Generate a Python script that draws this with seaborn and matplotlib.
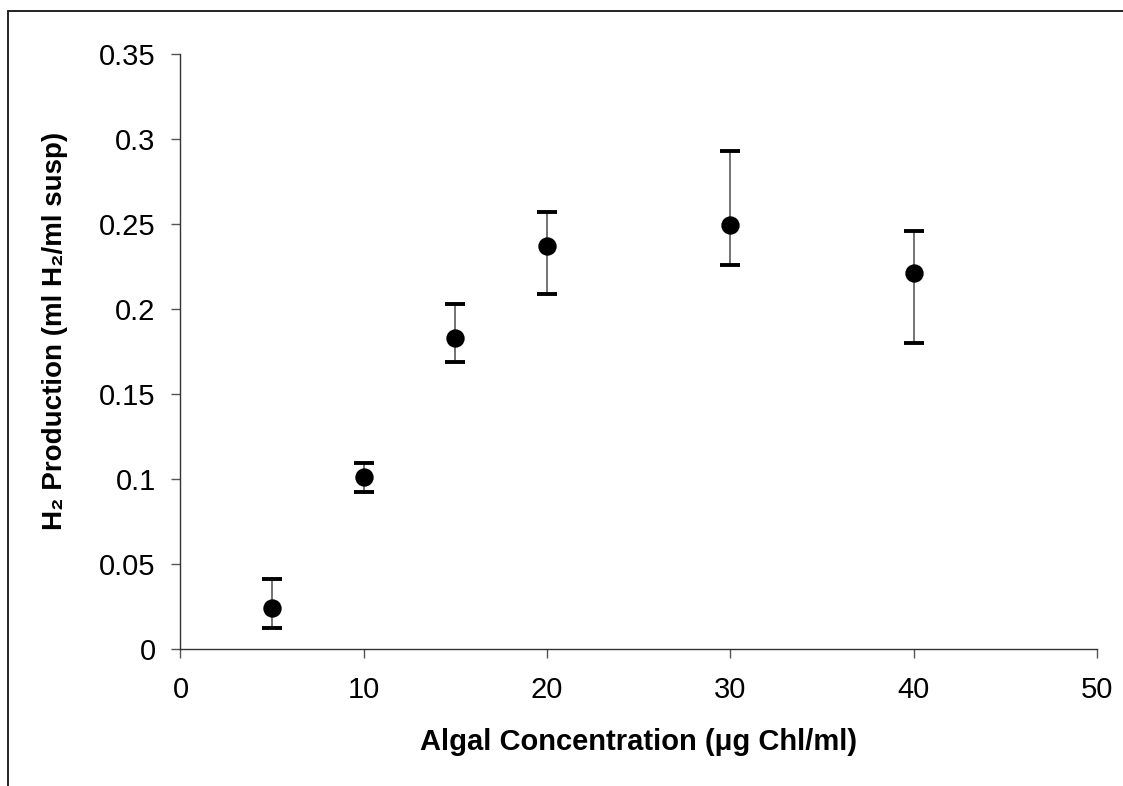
import matplotlib
matplotlib.use("Agg")
import matplotlib.pyplot as plt
from matplotlib.lines import Line2D
import seaborn as sns
import pandas as pd
import numpy as np

# ---- data ----
concentration = [5, 10, 15, 20, 30, 40]                       # µg Chl/ml
h2_mean = [0.024, 0.101, 0.183, 0.237, 0.2495, 0.221]          # ml H2 / ml susp
err_low = [0.012, 0.092, 0.169, 0.209, 0.226, 0.180]           # lower bar end
err_high = [0.041, 0.109, 0.203, 0.257, 0.293, 0.246]          # upper bar end

x_ticks = [0, 10, 20, 30, 40, 50]
y_ticks = [0, 0.05, 0.1, 0.15, 0.2, 0.25, 0.3, 0.35]
y_tick_labels = ["0", "0.05", "0.1", "0.15", "0.2", "0.25", "0.3", "0.35"]

df = pd.DataFrame({"conc": concentration, "h2": h2_mean,
                   "lo": err_low, "hi": err_high})

sns.set_theme(style="white")
plt.rcParams["font.family"] = ["Liberation Sans", "DejaVu Sans"]

fig = plt.figure(figsize=(11.23, 7.86), dpi=100)
ax = fig.add_axes([0.1607, 0.1749, 0.9768 - 0.1607, 0.9309 - 0.1749])

yerr = np.vstack([df["h2"] - df["lo"], df["hi"] - df["h2"]])
eb = ax.errorbar(df["conc"], df["h2"], yerr=yerr, fmt="none",
                 ecolor="#4d4d4d", elinewidth=1.1, capsize=7.4,
                 capthick=2.8, zorder=2)
for cap in eb[1]:
    cap.set_color("black")
    cap.set_markeredgecolor("black")
    cap.set_markerfacecolor("black")

sns.scatterplot(data=df, x="conc", y="h2", ax=ax, s=175, color="black",
                edgecolor="black", linewidth=0, zorder=3, legend=False)

ax.set_xlim(0, 50)
ax.set_ylim(0, 0.35)
ax.set_xticks(x_ticks)
ax.set_xticklabels([str(v) for v in x_ticks])
ax.set_yticks(y_ticks)
ax.set_yticklabels(y_tick_labels)

for s in ["top", "right"]:
    ax.spines[s].set_visible(False)
for s in ["left", "bottom"]:
    ax.spines[s].set_color("#333333")
    ax.spines[s].set_linewidth(1.0)

ax.tick_params(axis="y", direction="out", length=6.8, width=1.0,
               color="#555555", labelsize=21, pad=11, labelcolor="black",
               left=True)
ax.tick_params(axis="x", direction="out", length=6.8, width=1.0,
               color="#555555", labelsize=21, pad=13, labelcolor="black",
               bottom=True)

ax.set_xlabel("Algal Concentration (\u03bcg Chl/ml)", fontsize=21,
              fontweight="bold", color="black")
ax.set_ylabel("H\u2082 Production (ml H\u2082/ml susp)", fontsize=20,
              fontweight="bold", color="black")
ax.xaxis.set_label_coords(0.5, -0.133)
ax.yaxis.set_label_coords(-0.1228, 0.535)
ax.grid(False)

# outer chart-area border (clipped at right and bottom in the reference)
bx = 7.5 / 1123
by = 1 - 10.5 / 786
fig.add_artist(Line2D([bx, bx], [0, by], transform=fig.transFigure,
                      color="#222222", linewidth=1.4))
fig.add_artist(Line2D([bx, 1], [by, by], transform=fig.transFigure,
                      color="#222222", linewidth=1.4))

fig.savefig("out.png", dpi=100, facecolor="white")
